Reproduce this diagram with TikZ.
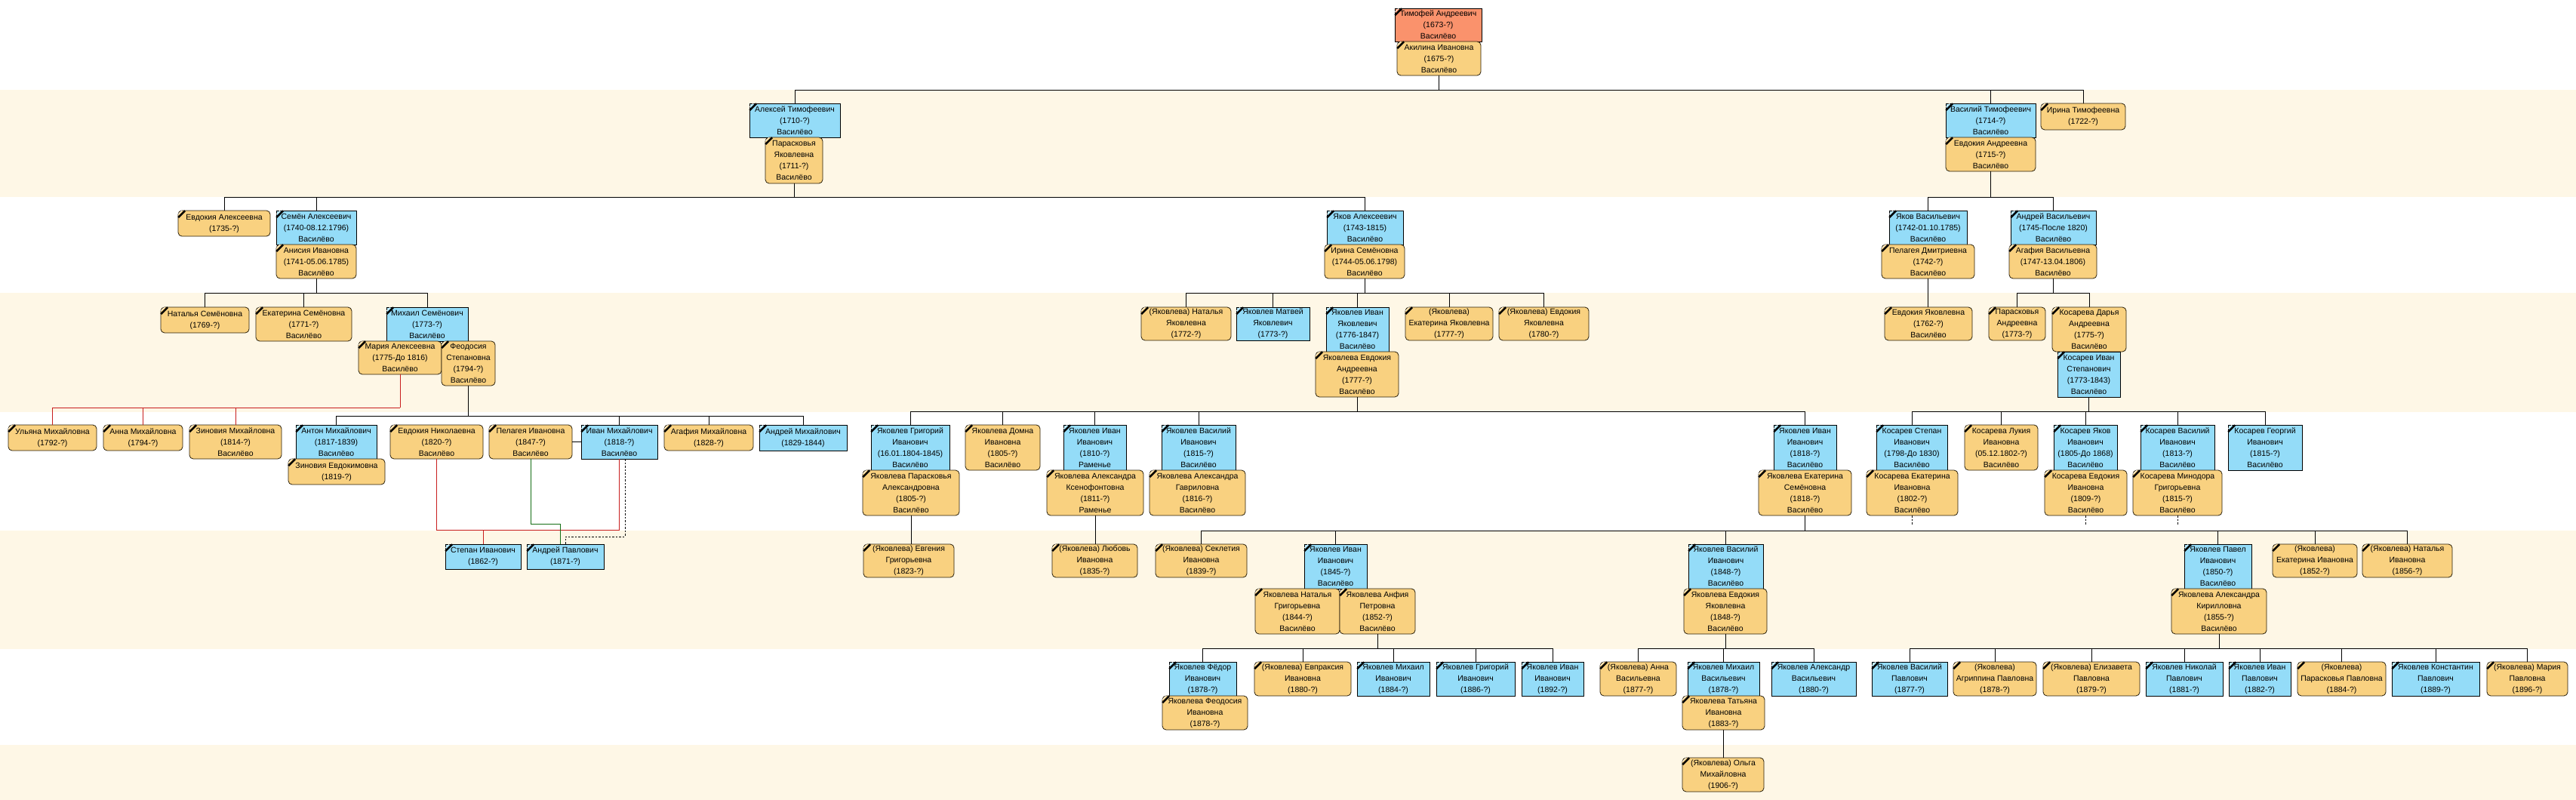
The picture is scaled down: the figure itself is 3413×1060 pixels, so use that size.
\documentclass[tikz,border=0pt]{standalone}
\usepackage{fontspec}
\setmainfont{Liberation Sans}
\definecolor{mblue}{RGB}{148,220,248}
\definecolor{fyellow}{RGB}{249,209,128}
\definecolor{fborder}{RGB}{40,30,10}
\definecolor{rootsalmon}{RGB}{250,146,108}
\definecolor{cream}{RGB}{254,247,230}
\definecolor{linkred}{RGB}{200,30,30}
\definecolor{linkgreen}{RGB}{20,110,20}
\newcommand{\cornermk}[1]{%
  \draw[black,line width=2.4pt] ([shift={(0.6pt,-9.5pt)}]#1.north west) -- ([shift={(9.5pt,-0.6pt)}]#1.north west);
  \draw[white,line width=0.7pt] ([shift={(0.5pt,-5.5pt)}]#1.north west) -- ([shift={(5.5pt,-0.5pt)}]#1.north west);}
\newcommand{\MaleP}[6]{%
  \node[malebox, minimum width={(#4-#2)*1pt}, minimum height={(#5-#3)*1pt}] (#1) at ({(#2+#4)/2},{(#3+#5)/2}) {#6};
  \cornermk{#1}}
\newcommand{\FemP}[6]{%
  \node[femalebox, minimum width={(#4-#2)*1pt}, minimum height={(#5-#3)*1pt}] (#1) at ({(#2+#4)/2},{(#3+#5)/2}) {#6};
  \cornermk{#1}}
\newcommand{\RootP}[6]{%
  \node[rootbox, minimum width={(#4-#2)*1pt}, minimum height={(#5-#3)*1pt}] (#1) at ({(#2+#4)/2},{(#3+#5)/2}) {#6};
  \cornermk{#1}}
% style, parent, bus y, first child, last child, all children
\newcommand{\famline}[6]{%
  \coordinate (busy) at (0,#3);
  \draw[#1] (#2.south) -- (#2.south |- busy);
  \draw[#1] (#4.north |- busy) -- (#5.north |- busy);
  \draw[#1] (#2.south |- busy) -- (#5.north |- busy);
  \foreach \kid in {#6} {\draw[#1] (\kid.north) -- (\kid.north |- busy);}}
\begin{document}
\begin{tikzpicture}[x=1pt,y=-1pt,
  pbox/.style={line width=0.8pt, inner sep=0pt, align=center, text=black, font=\fontsize{10.5}{15}\selectfont},
  malebox/.style={pbox, rectangle, draw=black, fill=mblue},
  femalebox/.style={pbox, rectangle, rounded corners=5pt, draw=fborder, fill=fyellow},
  rootbox/.style={pbox, rectangle, draw=black, fill=rootsalmon},
  conn/.style={draw=black, line width=0.9pt, line cap=rect},
  redconn/.style={draw=linkred, line width=0.9pt, line cap=rect},
  greenconn/.style={draw=linkgreen, line width=0.9pt, line cap=rect},
  dashconn/.style={draw=black, line width=0.9pt, dash pattern=on 2.5pt off 2pt}]
\useasboundingbox (0,0) rectangle (3413,1060);
\fill[white] (0,0) rectangle (3413,1060);
\fill[cream] (0,119) rectangle (3413,261);
\fill[cream] (0,388) rectangle (3413,546);
\fill[cream] (0,703) rectangle (3413,860);
\fill[cream] (0,987) rectangle (3413,1060);

% generation 1
\RootP{timofey}{1848}{11}{1963}{55}{Тимофей Андреевич\\(1673-?)\\Василёво}
\FemP{akilina}{1851}{55}{1962}{100}{Акилина Ивановна\\(1675-?)\\Василёво}
% generation 2
\MaleP{aleksey}{993}{137}{1113}{182}{Алексей Тимофеевич\\(1710-?)\\Василёво}
\FemP{paraskovyaY}{1014}{182}{1090}{243}{Парасковья\\Яковлевна\\(1711-?)\\Василёво}
\MaleP{vasilyT}{2578}{137}{2697}{182}{Василий Тимофеевич\\(1714-?)\\Василёво}
\FemP{evdokiyaAn}{2578}{182}{2697}{227}{Евдокия Андреевна\\(1715-?)\\Василёво}
\FemP{irinaT}{2704}{137}{2816}{172}{Ирина Тимофеевна\\(1722-?)}
% generation 3
\FemP{evdAl}{236}{279}{358}{313}{Евдокия Алексеевна\\(1735-?)}
\MaleP{semyon}{366}{279}{472}{324}{Семён Алексеевич\\(1740-08.12.1796)\\Василёво}
\FemP{anisiya}{366}{324}{472}{369}{Анисия Ивановна\\(1741-05.06.1785)\\Василёво}
\MaleP{yakovA}{1758}{279}{1859}{324}{Яков Алексеевич\\(1743-1815)\\Василёво}
\FemP{irinaS}{1755}{324}{1861}{369}{Ирина Семёновна\\(1744-05.06.1798)\\Василёво}
\MaleP{yakovV}{2503}{279}{2606}{324}{Яков Васильевич\\(1742-01.10.1785)\\Василёво}
\FemP{pelageyaD}{2493}{324}{2616}{369}{Пелагея Дмитриевна\\(1742-?)\\Василёво}
\MaleP{andreyV}{2664}{279}{2777}{324}{Андрей Васильевич\\(1745-После 1820)\\Василёво}
\FemP{agafiyaV}{2662}{324}{2778}{369}{Агафия Васильевна\\(1747-13.04.1806)\\Василёво}
% generation 4
\FemP{natalyaS}{213}{407}{330}{441}{Наталья Семёновна\\(1769-?)}
\FemP{ekaterinaS}{339}{407}{466}{452}{Екатерина Семёновна\\(1771-?)\\Василёво}
\MaleP{mikhailS}{512}{407}{620}{452}{Михаил Семёнович\\(1773-?)\\Василёво}
\FemP{mariyaA}{475}{452}{585}{496}{Мария Алексеевна\\(1775-До 1816)\\Василёво}
\FemP{feodosiya}{585}{452}{656}{511}{Феодосия\\Степановна\\(1794-?)\\Василёво}
\FemP{natalyaY}{1512}{407}{1631}{451}{(Яковлева) Наталья\\Яковлевна\\(1772-?)}
\MaleP{matvey}{1638}{407}{1735}{451}{Яковлев Матвей\\Яковлевич\\(1773-?)}
\MaleP{ivanY}{1757}{407}{1840}{466}{Яковлев Иван\\Яковлевич\\(1776-1847)\\Василёво}
\FemP{evdokiyaA}{1743}{466}{1853}{526}{Яковлева Евдокия\\Андреевна\\(1777-?)\\Василёво}
\FemP{ekaterinaY}{1862}{407}{1978}{451}{(Яковлева)\\Екатерина Яковлевна\\(1777-?)}
\FemP{evdokiyaYY}{1986}{407}{2105}{451}{(Яковлева) Евдокия\\Яковлевна\\(1780-?)}
\FemP{evdokiyaYak}{2497}{407}{2613}{451}{Евдокия Яковлевна\\(1762-?)\\Василёво}
\FemP{paraskovyaA}{2635}{407}{2710}{451}{Парасковья\\Андреевна\\(1773-?)}
\FemP{daria}{2719}{407}{2817}{466}{Косарева Дарья\\Андреевна\\(1775-?)\\Василёво}
\MaleP{kosarevIvan}{2726}{466}{2809}{526}{Косарев Иван\\Степанович\\(1773-1843)\\Василёво}
% generation 5
\FemP{ulyana}{11}{563}{128}{597}{Ульяна Михайловна\\(1792-?)}
\FemP{annaM}{137}{563}{242}{597}{Анна Михайловна\\(1794-?)}
\FemP{zinoviyaM}{251}{563}{373}{608}{Зиновия Михайловна\\(1814-?)\\Василёво}
\MaleP{anton}{392}{563}{499}{608}{Антон Михайлович\\(1817-1839)\\Василёво}
\FemP{zinoviyaE}{382}{608}{510}{642}{Зиновия Евдокимовна\\(1819-?)}
\FemP{evdokiyaN}{517}{563}{640}{608}{Евдокия Николаевна\\(1820-?)\\Василёво}
\FemP{pelageyaI}{648}{563}{758}{608}{Пелагея Ивановна\\(1847-?)\\Василёво}
\MaleP{ivanM}{770}{563}{871}{608}{Иван Михайлович\\(1818-?)\\Василёво}
\FemP{agafiyaM}{880}{563}{998}{597}{Агафия Михайловна\\(1828-?)}
\MaleP{andreyM}{1006}{563}{1122}{597}{Андрей Михайлович\\(1829-1844)}
\MaleP{grigoriy}{1154}{563}{1258}{623}{Яковлев Григорий\\Иванович\\(16.01.1804-1845)\\Василёво}
\FemP{paraskovyaAl}{1143}{623}{1271}{683}{Яковлева Парасковья\\Александровна\\(1805-?)\\Василёво}
\FemP{domna}{1279}{563}{1378}{623}{Яковлева Домна\\Ивановна\\(1805-?)\\Василёво}
\MaleP{ivanR}{1409}{563}{1492}{623}{Яковлев Иван\\Иванович\\(1810-?)\\Раменье}
\FemP{aleksandraK}{1387}{623}{1515}{683}{Яковлева Александра\\Ксенофонтовна\\(1811-?)\\Раменье}
\MaleP{vasilyI}{1539}{563}{1637}{623}{Яковлев Василий\\Иванович\\(1815-?)\\Василёво}
\FemP{aleksandraG}{1523}{623}{1650}{683}{Яковлева Александра\\Гавриловна\\(1816-?)\\Василёво}
\MaleP{ivanI}{2350}{563}{2433}{623}{Яковлев Иван\\Иванович\\(1818-?)\\Василёво}
\FemP{ekaterinaSem}{2330}{623}{2453}{683}{Яковлева Екатерина\\Семёновна\\(1818-?)\\Василёво}
\MaleP{stepanK}{2486}{563}{2580}{623}{Косарев Степан\\Иванович\\(1798-До 1830)\\Василёво}
\FemP{ekaterinaK}{2473}{623}{2594}{683}{Косарева Екатерина\\Ивановна\\(1802-?)\\Василёво}
\FemP{lukiya}{2603}{563}{2700}{623}{Косарева Лукия\\Ивановна\\(05.12.1802-?)\\Василёво}
\MaleP{yakovK}{2721}{563}{2805}{623}{Косарев Яков\\Иванович\\(1805-До 1868)\\Василёво}
\FemP{evdokiyaK}{2709}{623}{2818}{683}{Косарева Евдокия\\Ивановна\\(1809-?)\\Василёво}
\MaleP{vasilyK}{2836}{563}{2934}{623}{Косарев Василий\\Иванович\\(1813-?)\\Василёво}
\FemP{minodora}{2826}{623}{2944}{683}{Косарева Минодора\\Григорьевна\\(1815-?)\\Василёво}
\MaleP{georgiy}{2952}{563}{3050}{623}{Косарев Георгий\\Иванович\\(1815-?)\\Василёво}
% generation 6
\MaleP{stepanI}{590}{721}{690}{754}{Степан Иванович\\(1862-?)}
\MaleP{andreyP}{698}{721}{800}{754}{Андрей Павлович\\(1871-?)}
\FemP{evgeniya}{1144}{721}{1264}{765}{(Яковлева) Евгения\\Григорьевна\\(1823-?)}
\FemP{lyubov}{1394}{721}{1507}{765}{(Яковлева) Любовь\\Ивановна\\(1835-?)}
\FemP{sekletiya}{1531}{721}{1652}{765}{(Яковлева) Секлетия\\Ивановна\\(1839-?)}
\MaleP{ivanII}{1728}{721}{1811}{780}{Яковлев Иван\\Иванович\\(1845-?)\\Василёво}
\FemP{nataliaG}{1663}{780}{1775}{840}{Яковлева Наталья\\Григорьевна\\(1844-?)\\Василёво}
\FemP{anfiya}{1775}{780}{1875}{840}{Яковлева Анфия\\Петровна\\(1852-?)\\Василёво}
\MaleP{vasilyII}{2237}{721}{2336}{780}{Яковлев Василий\\Иванович\\(1848-?)\\Василёво}
\FemP{evdokiyaYa}{2231}{780}{2341}{840}{Яковлева Евдокия\\Яковлевна\\(1848-?)\\Василёво}
\MaleP{pavel}{2894}{721}{2983}{780}{Яковлев Павел\\Иванович\\(1850-?)\\Василёво}
\FemP{aleksandraKir}{2877}{780}{3003}{840}{Яковлева Александра\\Кирилловна\\(1855-?)\\Василёво}
\FemP{ekaterinaI}{3011}{721}{3123}{765}{(Яковлева)\\Екатерина Ивановна\\(1852-?)}
\FemP{nataliaI}{3130}{721}{3249}{765}{(Яковлева) Наталья\\Ивановна\\(1856-?)}
% generation 7
\MaleP{fedor}{1549}{877}{1638}{922}{Яковлев Фёдор\\Иванович\\(1878-?)}
\FemP{feodosiyaI}{1540}{922}{1653}{967}{Яковлева Феодосия\\Ивановна\\(1878-?)}
\FemP{evpraksiya}{1662}{877}{1790}{922}{(Яковлева) Евпраксия\\Ивановна\\(1880-?)}
\MaleP{mikhailI}{1798}{877}{1894}{922}{Яковлев Михаил\\Иванович\\(1884-?)}
\MaleP{grigoriyI}{1903}{877}{2007}{922}{Яковлев Григорий\\Иванович\\(1886-?)}
\MaleP{ivanIII}{2016}{877}{2098}{922}{Яковлев Иван\\Иванович\\(1892-?)}
\FemP{annaV}{2120}{877}{2221}{922}{(Яковлева) Анна\\Васильевна\\(1877-?)}
\MaleP{mikhailV}{2236}{877}{2331}{922}{Яковлев Михаил\\Васильевич\\(1878-?)}
\FemP{tatyana}{2229}{922}{2338}{967}{Яковлева Татьяна\\Ивановна\\(1883-?)}
\MaleP{aleksandrV}{2347}{877}{2459}{922}{Яковлев Александр\\Васильевич\\(1880-?)}
\MaleP{vasilyP}{2480}{877}{2580}{922}{Яковлев Василий\\Павлович\\(1877-?)}
\FemP{agrippina}{2588}{877}{2698}{922}{(Яковлева)\\Агриппина Павловна\\(1878-?)}
\FemP{elizaveta}{2707}{877}{2835}{922}{(Яковлева) Елизавета\\Павловна\\(1879-?)}
\MaleP{nikolay}{2843}{877}{2945}{922}{Яковлев Николай\\Павлович\\(1881-?)}
\MaleP{ivanP}{2953}{877}{3035}{922}{Яковлев Иван\\Павлович\\(1882-?)}
\FemP{paraskovyaP}{3044}{877}{3161}{922}{(Яковлева)\\Парасковья Павловна\\(1884-?)}
\MaleP{konstantin}{3169}{877}{3285}{922}{Яковлев Константин\\Павлович\\(1889-?)}
\FemP{mariyaP}{3295}{877}{3402}{922}{(Яковлева) Мария\\Павловна\\(1896-?)}
% generation 8
\FemP{olga}{2229}{1004}{2337}{1049}{(Яковлева) Ольга\\Михайловна\\(1906-?)}

% connectors
\famline{conn}{akilina}{119}{aleksey}{irinaT}{aleksey,vasilyT,irinaT}
\famline{conn}{paraskovyaY}{261}{evdAl}{yakovA}{evdAl,semyon,yakovA}
\famline{conn}{evdokiyaAn}{261}{yakovV}{andreyV}{yakovV,andreyV}
\famline{conn}{anisiya}{388}{natalyaS}{mikhailS}{natalyaS,ekaterinaS,mikhailS}
\famline{conn}{irinaS}{388}{natalyaY}{evdokiyaYY}{natalyaY,matvey,ivanY,ekaterinaY,evdokiyaYY}
\draw[conn] (pelageyaD.south) -- (pelageyaD.south |- evdokiyaYak.north);
\famline{conn}{agafiyaV}{388}{paraskovyaA}{daria}{paraskovyaA,daria}
\famline{redconn}{mariyaA}{540}{ulyana}{zinoviyaM}{ulyana,annaM,zinoviyaM}
\famline{conn}{feodosiya}{551}{anton}{andreyM}{anton,ivanM,agafiyaM,andreyM}
\famline{conn}{evdokiyaA}{545}{grigoriy}{ivanI}{grigoriy,domna,ivanR,vasilyI,ivanI}
\famline{conn}{kosarevIvan}{545}{stepanK}{georgiy}{stepanK,lukiya,yakovK,vasilyK,georgiy}
\draw[conn] (paraskovyaAl.south) -- (paraskovyaAl.south |- evgeniya.north);
\draw[conn] (aleksandraK.south) -- (aleksandraK.south |- lyubov.north);
\famline{conn}{ekaterinaSem}{703}{sekletiya}{nataliaI}{sekletiya,ivanII,vasilyII,pavel,ekaterinaI,nataliaI}
\famline{conn}{anfiya}{859}{fedor}{ivanIII}{fedor,evpraksiya,mikhailI,grigoriyI,ivanIII}
\famline{conn}{evdokiyaYa}{859}{annaV}{aleksandrV}{annaV,mikhailV,aleksandrV}
\famline{conn}{aleksandraKir}{859}{vasilyP}{mariyaP}{vasilyP,agrippina,elizaveta,nikolay,ivanP,paraskovyaP,konstantin,mariyaP}
\draw[conn] (tatyana.south) -- (tatyana.south |- olga.north);
% Ivan Mikhailovich's families
\draw[conn] (pelageyaI.east) -- (ivanM.west);
\coordinate (y694) at (0,694);
\coordinate (y702) at (0,702);
\coordinate (y711) at (0,711);
\draw[redconn] (evdokiyaN.south) -- (evdokiyaN.south |- y702) -- (ivanM.south |- y702) -- (ivanM.south);
\draw[redconn] (stepanI.north) -- (stepanI.north |- y702);
\coordinate (apL) at ([xshift=-7pt]andreyP.north);
\coordinate (imR) at ([xshift=7.5pt]ivanM.south);
\draw[greenconn] (pelageyaI.south) -- (pelageyaI.south |- y694) -- (apL |- y694) -- (apL);
\draw[dashconn] (imR) -- (imR |- y711) -- (andreyP.north |- y711) -- (andreyP.north);
% open lines below
\coordinate (ekKend) at ([yshift=-13pt]ekaterinaK.south);
\coordinate (evKend) at ([yshift=-13pt]evdokiyaK.south);
\coordinate (miKend) at ([yshift=-13pt]minodora.south);
\draw[dashconn] (ekaterinaK.south) -- (ekKend);
\draw[dashconn] (evdokiyaK.south) -- (evKend);
\draw[dashconn] (minodora.south) -- (miKend);
\end{tikzpicture}
\end{document}
